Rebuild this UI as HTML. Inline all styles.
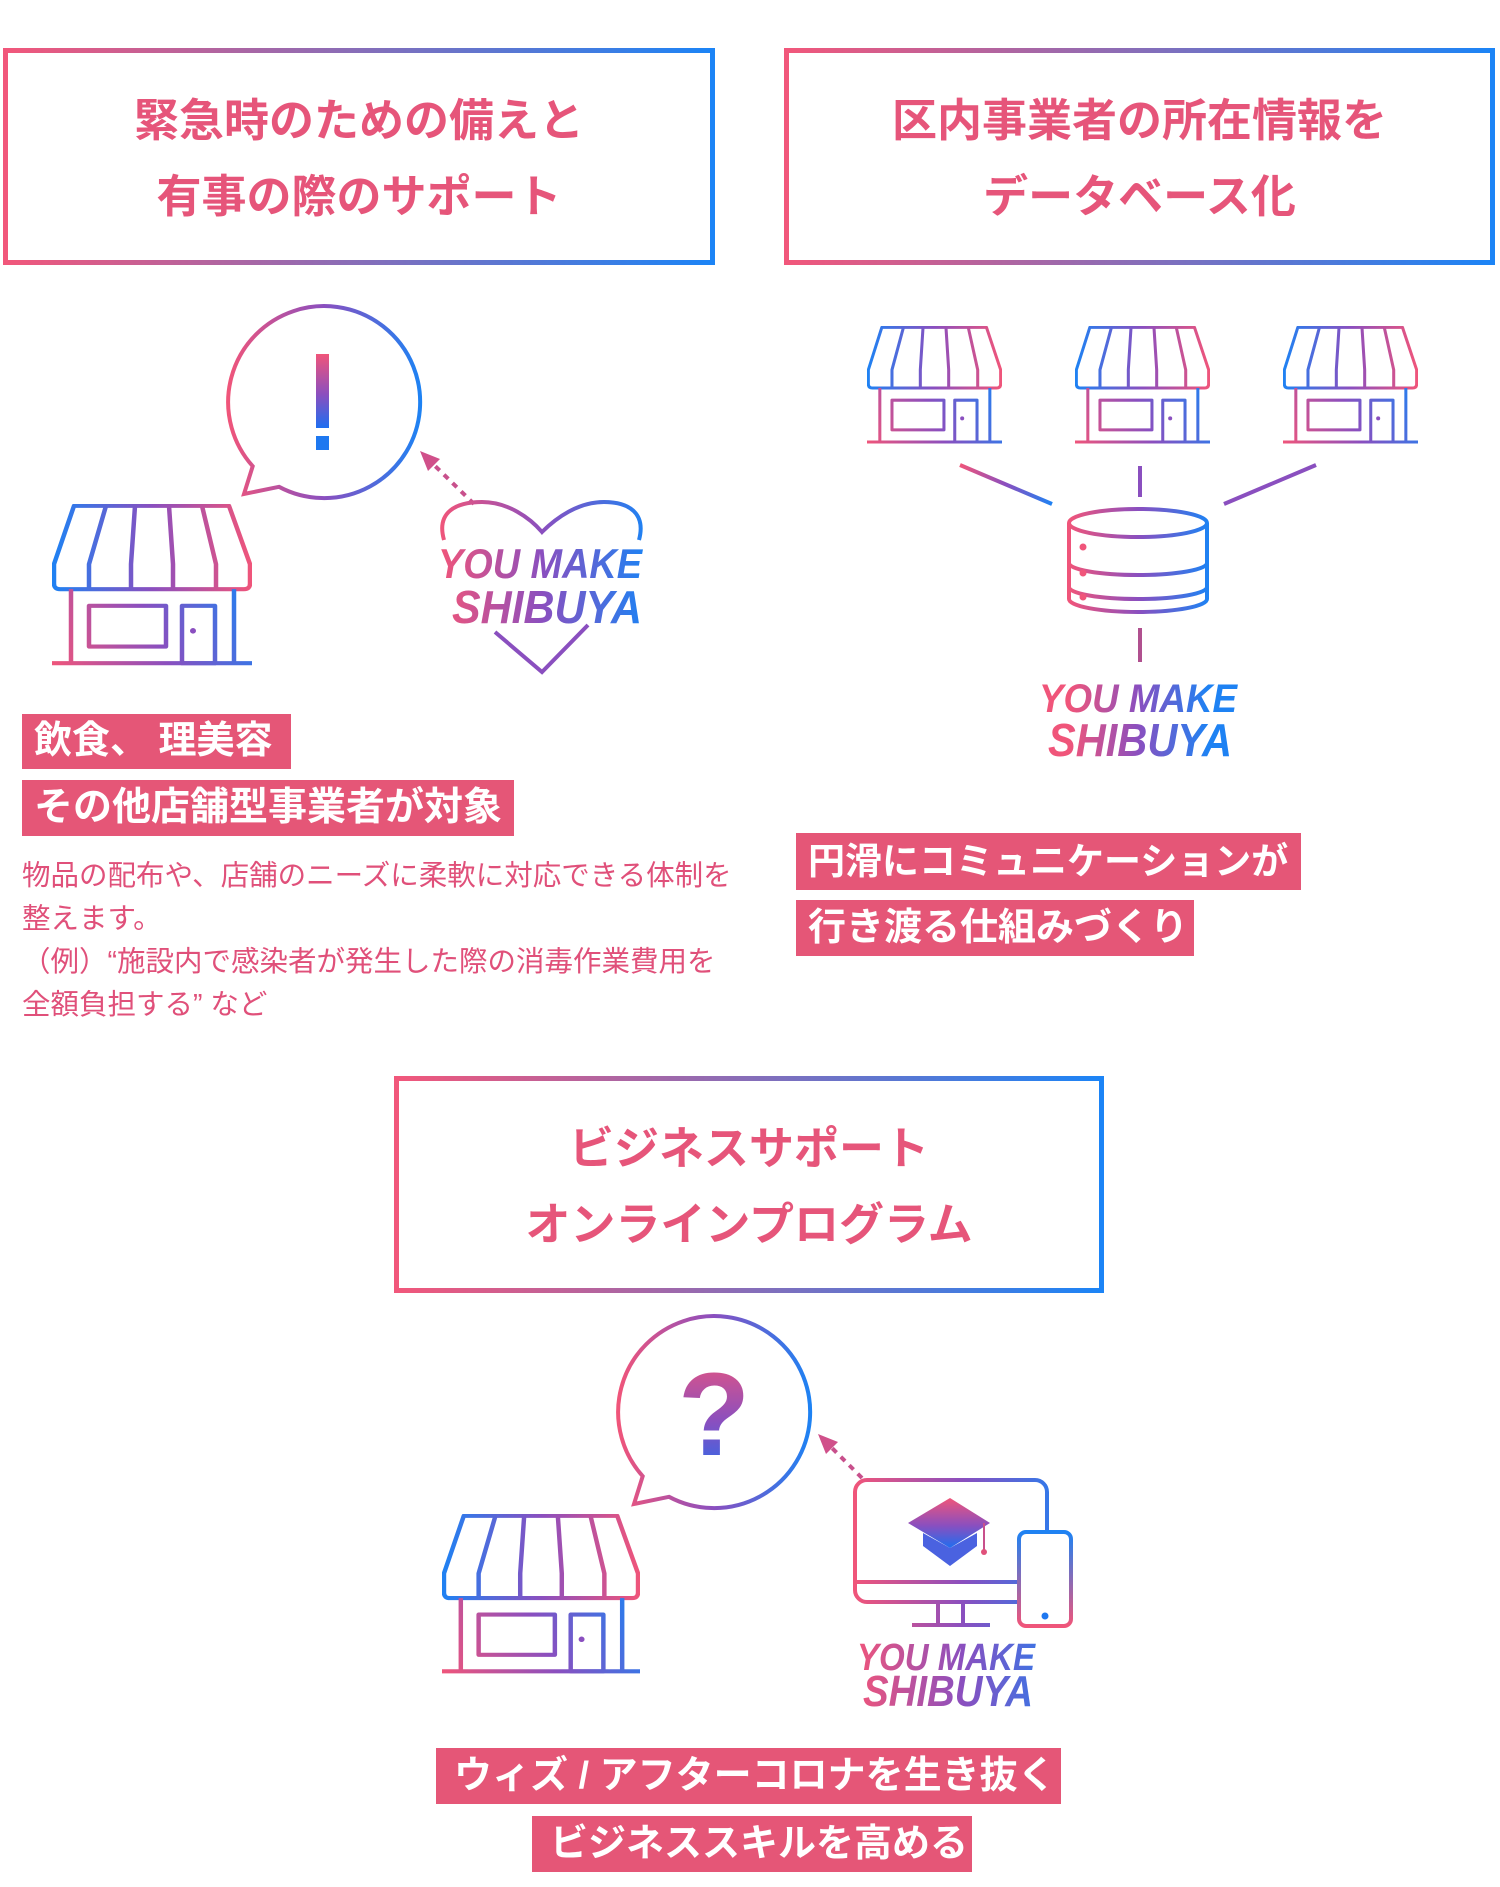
<!DOCTYPE html>
<html><head><meta charset="utf-8"><style>
html,body{margin:0;padding:0;background:#fff}
body{width:1500px;height:1887px;position:relative;overflow:hidden;font-family:"Liberation Sans","Noto Sans CJK JP",sans-serif}
.box{position:absolute;box-sizing:border-box;border:5px solid;border-image:linear-gradient(to right,#f1577b,#1c84f6) 1}
.title{position:absolute;left:0;right:0;text-align:center;color:#e6557a;font-weight:bold;font-size:45px;line-height:76px;white-space:nowrap}
.lab{position:absolute;background:#e55677;color:#fff;font-weight:bold;white-space:nowrap;box-sizing:border-box;padding-left:12px}
.body{position:absolute;left:22px;top:855px;color:#e0507a;font-size:28.5px;line-height:43px;white-space:nowrap}
svg{position:absolute;left:0;top:0}
</style></head><body>

<div class="box" style="left:3px;top:48px;width:712px;height:217px"><div class="title" style="top:30px">緊急時のための備えと<br>有事の際のサポート</div></div>
<div class="box" style="left:784px;top:48px;width:711px;height:217px"><div class="title" style="top:30px">区内事業者の所在情報を<br>データベース化</div></div>
<div class="box" style="left:394px;top:1076px;width:710px;height:217px"><div class="title" style="top:30px">ビジネスサポート<br>オンラインプログラム</div></div>

<div class="lab" style="left:22px;top:714px;width:269px;height:55px;font-size:38px;line-height:55px">飲食、 理美容</div>
<div class="lab" style="left:22px;top:780px;width:492px;height:56px;font-size:39px;line-height:56px">その他店舗型事業者が対象</div>
<div class="body">物品の配布や、店舗のニーズに柔軟に対応できる体制を<br>整えます。<br>（例）“施設内で感染者が発生した際の消毒作業費用を<br>全額負担する” など</div>

<div class="lab" style="left:796px;top:833px;width:505px;height:57px;font-size:37px;line-height:57px">円滑にコミュニケーションが</div>
<div class="lab" style="left:796px;top:900px;width:398px;height:56px;font-size:38px;line-height:56px">行き渡る仕組みづくり</div>

<div class="lab" style="left:436px;top:1748px;width:625px;height:56px;font-size:38px;line-height:56px;padding-left:18px">ウィズ / アフターコロナを生き抜く</div>
<div class="lab" style="left:532px;top:1816px;width:440px;height:56px;font-size:38px;line-height:56px;padding-left:18px">ビジネススキルを高める</div>

<svg width="1500" height="1887" viewBox="0 0 1500 1887">
<defs>
<linearGradient id="sa" gradientUnits="userSpaceOnUse" x1="0" y1="0" x2="200" y2="0"><stop offset="0" stop-color="#1e82f3"/><stop offset="0.5" stop-color="#8a4fbf"/><stop offset="1" stop-color="#f0557a"/></linearGradient>
<linearGradient id="sb" gradientUnits="userSpaceOnUse" x1="0" y1="175" x2="200" y2="92"><stop offset="0" stop-color="#f0557a"/><stop offset="0.5" stop-color="#8a4fbf"/><stop offset="1" stop-color="#1e82f3"/></linearGradient>
<symbol id="store" viewBox="0 0 200 175" preserveAspectRatio="none">
<g fill="none" stroke-width="4.5" stroke-linejoin="round">
<path d="M22,2 H177 L198,65 V86 Q198,92 192,92 H8 Q2,92 2,86 V65 Z" stroke="url(#sa)"/>
<path d="M54,2 L37,65 V92 M83,2 L79,65 V92 M117,2 L121,65 V92 M150,2 L164,65 V92" stroke="url(#sa)"/>
<path d="M19,92 V172 M182,92 V172 M0,172 H200" stroke="url(#sb)"/>
<rect x="37" y="110" width="77" height="44" stroke="url(#sb)"/>
<rect x="130" y="110" width="33" height="62" stroke="url(#sb)"/>
</g>
<circle cx="141" cy="137" r="3" fill="#8a4fbf"/>
</symbol>
<linearGradient id="h" x1="0" y1="0" x2="1" y2="0"><stop offset="0" stop-color="#f0557a"/><stop offset="0.5" stop-color="#8a4fbf"/><stop offset="1" stop-color="#1e82f3"/></linearGradient>
<linearGradient id="v" x1="0" y1="0" x2="0" y2="1"><stop offset="0" stop-color="#f0557a"/><stop offset="0.55" stop-color="#8a4fbf"/><stop offset="1" stop-color="#1e6ef0"/></linearGradient>
<linearGradient id="b1" gradientUnits="userSpaceOnUse" x1="228" y1="0" x2="420" y2="0"><stop offset="0" stop-color="#f0557a"/><stop offset="0.5" stop-color="#8a4fbf"/><stop offset="1" stop-color="#1e82f3"/></linearGradient>
<linearGradient id="b2" gradientUnits="userSpaceOnUse" x1="618" y1="0" x2="810" y2="0"><stop offset="0" stop-color="#f0557a"/><stop offset="0.5" stop-color="#8a4fbf"/><stop offset="1" stop-color="#1e82f3"/></linearGradient>
<linearGradient id="hr" gradientUnits="userSpaceOnUse" x1="440" y1="0" x2="645" y2="0"><stop offset="0" stop-color="#f0557a"/><stop offset="0.5" stop-color="#8a4fbf"/><stop offset="1" stop-color="#1e82f3"/></linearGradient>
<linearGradient id="db" gradientUnits="userSpaceOnUse" x1="1069" y1="0" x2="1208" y2="0"><stop offset="0" stop-color="#f0557a"/><stop offset="0.5" stop-color="#8a4fbf"/><stop offset="1" stop-color="#1e82f3"/></linearGradient>
<linearGradient id="mn" gradientUnits="userSpaceOnUse" x1="855" y1="0" x2="1071" y2="0"><stop offset="0" stop-color="#f0557a"/><stop offset="0.5" stop-color="#8a4fbf"/><stop offset="1" stop-color="#1e82f3"/></linearGradient>
<linearGradient id="ph" gradientUnits="userSpaceOnUse" x1="0" y1="1626" x2="0" y2="1532"><stop offset="0" stop-color="#f0557a"/><stop offset="1" stop-color="#1e82f3"/></linearGradient>
</defs>

<path d="M252.7,466.2 A96,96 0 1,1 279,486.8 L244,494 Z" fill="none" stroke="url(#b1)" stroke-width="4"/>
<rect x="316" y="354" width="13" height="74" fill="url(#v)"/>
<rect x="316" y="436" width="13" height="14" fill="#1e78f0"/>
<use href="#store" x="52" y="504" width="200" height="162"/>
<line x1="474" y1="504" x2="430" y2="461" stroke="#c8508c" stroke-width="4" stroke-dasharray="6 6"/>
<polygon points="420,451 440,459 428,471" fill="#d0508a"/>
<path d="M444,540 C436,512 456,502 482,502 C508,502 530,518 542,532 C556,518 578,502 604,502 C630,502 646,514 639,540" fill="none" stroke="url(#hr)" stroke-width="4"/>
<path d="M495,632 L542,672 L588,625" fill="none" stroke="#8a4fbf" stroke-width="4"/>
<text x="540" y="578" text-anchor="middle" font-size="42" font-weight="bold" font-style="italic" fill="url(#hr)" textLength="204" lengthAdjust="spacingAndGlyphs">YOU MAKE</text>
<text x="547" y="623" text-anchor="middle" font-size="46" font-weight="bold" font-style="italic" fill="url(#hr)" textLength="190" lengthAdjust="spacingAndGlyphs">SHIBUYA</text>

<use href="#store" x="867" y="326" width="135" height="118"/>
<use href="#store" x="1075" y="326" width="135" height="118"/>
<use href="#store" x="1283" y="326" width="135" height="118"/>
<g stroke-width="4" fill="none">
<line x1="960" y1="465" x2="1052" y2="504" stroke="url(#h)"/>
<line x1="1140" y1="466" x2="1140" y2="497" stroke="#8a4fbf"/>
<line x1="1316" y1="465" x2="1224" y2="504" stroke="#8a4fbf"/>
<line x1="1140" y1="628" x2="1140" y2="662" stroke="#b0508f"/>
<ellipse cx="1138" cy="523" rx="69" ry="14" stroke="url(#db)"/>
<path d="M1069,523 V599 M1207,523 V599 M1069,563 A69,12 0 0 0 1207,563 M1069,587 A69,12 0 0 0 1207,587 M1069,599 A69,13 0 0 0 1207,599" stroke="url(#db)"/>
</g>
<circle cx="1083" cy="547" r="3.5" fill="#f0557a"/><circle cx="1083" cy="573" r="3.5" fill="#f0557a"/><circle cx="1083" cy="597" r="3.5" fill="#f0557a"/>
<text x="1138" y="712" text-anchor="middle" font-size="40" font-weight="bold" font-style="italic" fill="url(#db)" textLength="198" lengthAdjust="spacingAndGlyphs">YOU MAKE</text>
<text x="1140" y="756" text-anchor="middle" font-size="46" font-weight="bold" font-style="italic" fill="url(#db)" textLength="184" lengthAdjust="spacingAndGlyphs">SHIBUYA</text>

<path d="M642.7,1476.2 A96,96 0 1,1 669,1496.8 L634,1504 Z" fill="none" stroke="url(#b2)" stroke-width="4"/>
<text x="714" y="1455" text-anchor="middle" font-size="118" font-weight="bold" fill="url(#v)">?</text>
<use href="#store" x="442" y="1514" width="198" height="160"/>
<line x1="862" y1="1478" x2="828" y2="1444" stroke="#c8508c" stroke-width="4" stroke-dasharray="6 6"/>
<polygon points="818,1434 838,1442 826,1454" fill="#d0508a"/>
<g fill="none" stroke-width="4">
<rect x="855" y="1480" width="192" height="122" rx="12" stroke="url(#mn)"/>
<line x1="855" y1="1582" x2="1019" y2="1582" stroke="url(#mn)"/>
<path d="M938,1602 V1625 M963,1602 V1625 M912,1625 H990" stroke="url(#mn)"/>
</g>
<rect x="1019" y="1532" width="52" height="94" rx="7" fill="#fff" stroke="url(#ph)" stroke-width="4"/>
<circle cx="1045" cy="1616" r="3.5" fill="#1e78f0"/>
<polygon points="908,1523 950,1498 990,1523 950,1548" fill="url(#v)"/>
<polygon points="923,1533 950,1548 977,1533 977,1546 950,1566 923,1546" fill="#4a62e0"/>
<line x1="984" y1="1523" x2="984" y2="1550" stroke="#c8508c" stroke-width="2"/>
<circle cx="984" cy="1552" r="3" fill="#e0507a"/>
<text x="946" y="1670" text-anchor="middle" font-size="38" font-weight="bold" font-style="italic" fill="url(#mn)" textLength="178" lengthAdjust="spacingAndGlyphs">YOU MAKE</text>
<text x="948" y="1706" text-anchor="middle" font-size="44" font-weight="bold" font-style="italic" fill="url(#mn)" textLength="170" lengthAdjust="spacingAndGlyphs">SHIBUYA</text>
</svg>
</body></html>
